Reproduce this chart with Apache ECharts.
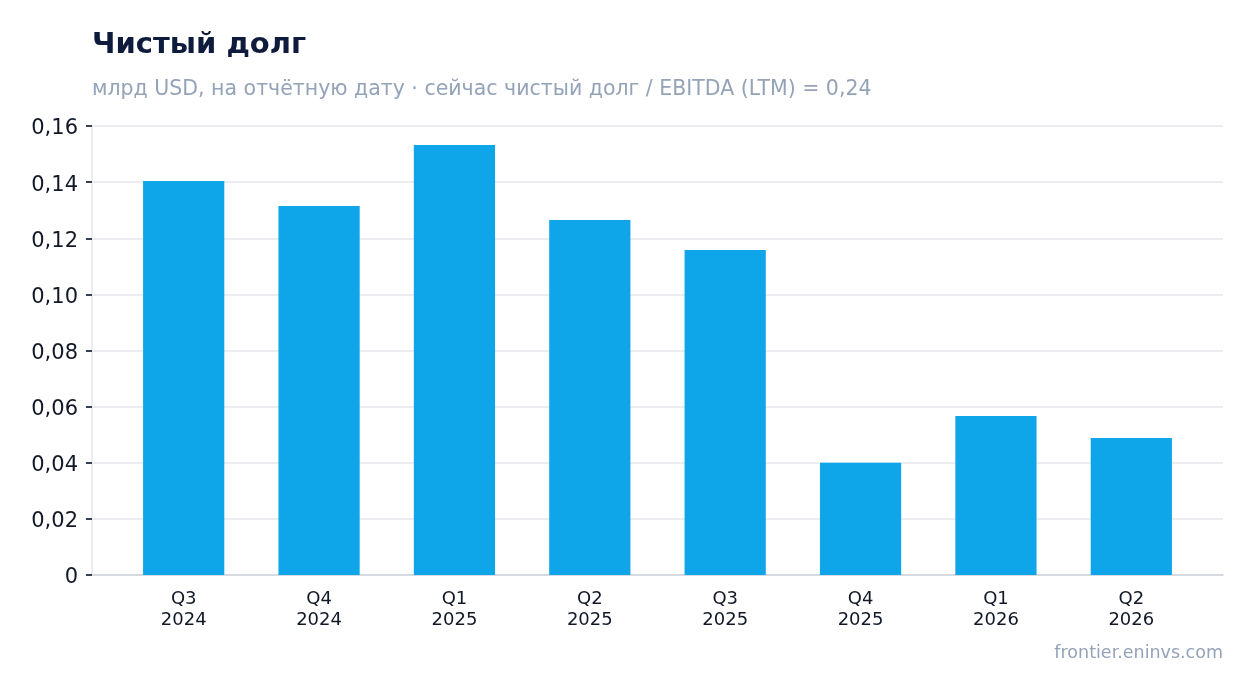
<!DOCTYPE html>
<html>
<head>
<meta charset="utf-8">
<script src="https://cdn.jsdelivr.net/npm/echarts@6/dist/echarts.min.js"></script>
<style>
    html, body { margin: 0; padding: 0; background: #fff; }
    #chart { width: 1254px; height: 693px; }
</style>
</head>
<body>
<div id="chart"></div>
<script>
// данные
let quarters = ['Q3\n2024', 'Q4\n2024', 'Q1\n2025', 'Q2\n2025', 'Q3\n2025', 'Q4\n2025', 'Q1\n2026', 'Q2\n2026'];
let netDebt = [0.1404, 0.1315, 0.1532, 0.1265, 0.1158, 0.0400, 0.0567, 0.0488];
let yTicks = [0, 0.02, 0.04, 0.06, 0.08, 0.10, 0.12, 0.14, 0.16];

let font = 'DejaVu Sans';

function fmt(v) {
    let s = v === 0 ? '0' : v.toFixed(2).replace('.', ',');
    return '{v|' + s + '}';
}

let myChart = echarts.init(document.getElementById('chart'));
let option = {
    animation: false,
    textStyle: { fontFamily: font },
    title: [{
        text: 'Чистый долг',
        left: 87,
        top: 26,
        textStyle: { fontFamily: font, fontSize: 29, fontWeight: 'bold', color: '#0f1b3d' }
    }, {
        text: 'млрд USD, на отчётную дату · сейчас чистый долг / EBITDA (LTM) = 0,24',
        left: 87,
        top: 74,
        textStyle: { fontFamily: font, fontSize: 20.5, fontWeight: 'normal', color: '#94a3b8' }
    }, {
        text: 'frontier.eninvs.com',
        right: 26,
        top: 639,
        textStyle: { fontFamily: font, fontSize: 17.5, fontWeight: 'normal', color: '#94a3b8' }
    }],
    // сетка 0 - оси и линии, сетка 1 - столбцы с отступами по краям
    grid: [{
        left: 92,
        right: 31,
        top: 126,
        bottom: 118
    }, {
        left: 116,
        right: 55,
        top: 126,
        bottom: 118
    }],
    xAxis: [{
        type: 'category',
        gridIndex: 0,
        data: [''],
        axisLine: { lineStyle: { color: '#d1d5db', width: 1.5 } },
        axisTick: { show: false },
        axisLabel: { show: false }
    }, {
        type: 'category',
        gridIndex: 1,
        data: quarters,
        axisLine: { show: false },
        axisTick: { alignWithLabel: true, length: 6, lineStyle: { color: '#374151', width: 2 } },
        axisLabel: { color: '#111827', fontSize: 18, lineHeight: 21, margin: 14, fontFamily: font }
    }],
    yAxis: [{
        type: 'value',
        gridIndex: 0,
        min: yTicks[0],
        max: yTicks[yTicks.length - 1],
        interval: 0.02,
        axisLine: { show: true, lineStyle: { color: '#e5e7eb', width: 1.5 } },
        axisTick: { show: true, length: 6, lineStyle: { color: '#374151', width: 2 } },
        axisLabel: {
            margin: 14,
            formatter: fmt,
            rich: {
                v: { color: '#111827', fontSize: 21, fontFamily: font, padding: [6, 0, 0, 0] }
            }
        },
        splitLine: { lineStyle: { color: '#e5e7eb', width: 1.5 } }
    }, {
        type: 'value',
        gridIndex: 1,
        min: yTicks[0],
        max: yTicks[yTicks.length - 1],
        interval: 0.02,
        show: false
    }],
    series: [{
        type: 'bar',
        xAxisIndex: 1,
        yAxisIndex: 1,
        data: netDebt,
        barWidth: '60%',
        itemStyle: { color: '#0ea5e9' }
    }]
};
myChart.setOption(option);
</script>
</body>
</html>
